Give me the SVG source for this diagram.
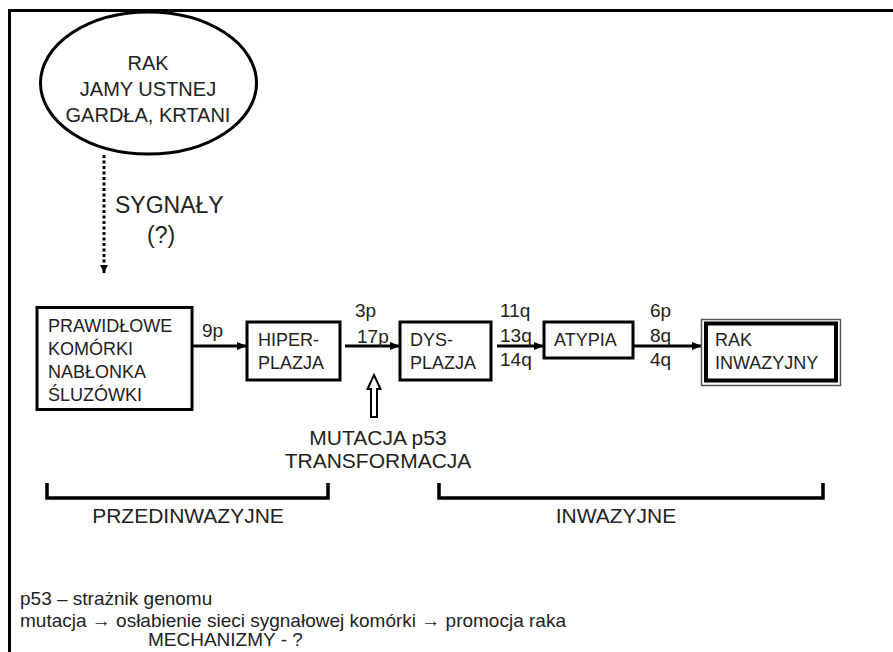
<svg xmlns="http://www.w3.org/2000/svg" width="893" height="652" viewBox="0 0 893 652">
<defs>
<marker id="ah" markerUnits="userSpaceOnUse" markerWidth="10" markerHeight="10" refX="10" refY="5" orient="auto">
<path d="M0,1 L10,5 L0,9 Z" fill="#000"/>
</marker>
<marker id="ahs" markerUnits="userSpaceOnUse" markerWidth="8" markerHeight="8" refX="8" refY="4" orient="auto">
<path d="M0,0 L8,4 L0,8 Z" fill="#000"/>
</marker>
</defs>
<style>
text{font-family:"Liberation Sans",Arial,sans-serif;fill:#222}
.b{font-size:18px}
.c{font-size:19px}
.box{fill:#fff;stroke:#000;stroke-width:3}
.ln{fill:none;stroke:#000;stroke-width:3}
.m{text-anchor:middle}
</style>
<rect width="893" height="652" fill="#fff"/>
<g id="frame">
<path d="M8,10.5 H893 M9.5,9 V652" fill="none" stroke="#000" stroke-width="3"/>
</g>
<g id="connectors">
<line x1="104" y1="155" x2="104" y2="273" stroke="#000" stroke-width="3" stroke-dasharray="3,2.5" marker-end="url(#ahs)"/>
<line x1="192" y1="346" x2="247" y2="346" class="ln" marker-end="url(#ah)"/>
<line x1="345" y1="346" x2="400" y2="346" class="ln" marker-end="url(#ah)"/>
<line x1="497" y1="346" x2="544" y2="346" class="ln" marker-end="url(#ah)"/>
<line x1="633" y1="346" x2="702" y2="346" class="ln" marker-end="url(#ah)"/>
<path d="M374,375 L380.5,389 L377,389 L377,417 L371,417 L371,389 L367.5,389 Z" fill="#fff" stroke="#000" stroke-width="2"/>
</g>
<g id="n-rak-jamy">
<ellipse cx="148.5" cy="83" rx="108" ry="71" fill="#fff" stroke="#000" stroke-width="3"/>
<text x="148" y="70" class="m" font-size="20">RAK</text>
<text x="148" y="96" class="m" font-size="20">JAMY USTNEJ</text>
<text x="148" y="122" class="m" font-size="20">GARDŁA, KRTANI</text>
</g>
<g id="l-sygnaly">
<text x="115" y="213" font-size="23">SYGNAŁY</text>
<text x="147" y="243" font-size="23">(?)</text>
</g>
<g id="n-prawidlowe">
<rect x="37" y="307.5" width="155" height="102" class="box"/>
<text x="48" y="332" class="b">PRAWIDŁOWE</text>
<text x="48" y="355" class="b">KOMÓRKI</text>
<text x="48" y="378" class="b">NABŁONKA</text>
<text x="48" y="401" class="b">ŚLUZÓWKI</text>
</g>
<g id="n-hiper">
<rect x="247" y="322" width="93" height="58" class="box"/>
<text x="258" y="346" class="b">HIPER-</text>
<text x="258" y="369" class="b">PLAZJA</text>
</g>
<g id="n-dys">
<rect x="400" y="322" width="91" height="58" class="box"/>
<text x="410" y="346" class="b">DYS-</text>
<text x="410" y="369" class="b">PLAZJA</text>
</g>
<g id="n-atypia">
<rect x="544" y="322" width="89" height="36" class="box"/>
<text x="554" y="346" class="b">ATYPIA</text>
</g>
<g id="n-rak-inwazyjny">
<rect x="701.5" y="319.5" width="139" height="66" fill="#fff" stroke="#555" stroke-width="1.5"/>
<rect x="706" y="323.5" width="130" height="57" fill="#fff" stroke="#000" stroke-width="4"/>
<text x="715" y="346" class="b">RAK</text>
<text x="715" y="369" class="b">INWAZYJNY</text>
</g>
<g id="edge-labels">
<text x="202" y="337" class="c">9p</text>
<text x="355" y="317" class="c">3p</text>
<text x="357" y="343" class="c">17p</text>
<text x="500" y="317" class="c">11q</text>
<text x="500" y="342" class="c">13q</text>
<text x="500" y="366" class="c">14q</text>
<text x="650" y="317" class="c">6p</text>
<text x="650" y="342" class="c">8q</text>
<text x="650" y="366" class="c">4q</text>
</g>
<g id="l-mutacja">
<text x="378" y="445" class="m" font-size="21">MUTACJA p53</text>
<text x="378" y="468" class="m" font-size="21">TRANSFORMACJA</text>
</g>
<g id="brackets">
<path d="M47,483 V498 H328 V483" fill="none" stroke="#000" stroke-width="3.5"/>
<path d="M439,483 V498 H823 V483" fill="none" stroke="#000" stroke-width="3.5"/>
<text x="188" y="523" class="m" font-size="21">PRZEDINWAZYJNE</text>
<text x="616" y="523" class="m" font-size="21">INWAZYJNE</text>
</g>
<g id="notes">
<text x="20" y="605" class="c">p53 – strażnik genomu</text>
<text x="20" y="627" class="c">mutacja → osłabienie sieci sygnałowej komórki → promocja raka</text>
<text x="148" y="646" class="c">MECHANIZMY - ?</text>
</g>
</svg>
